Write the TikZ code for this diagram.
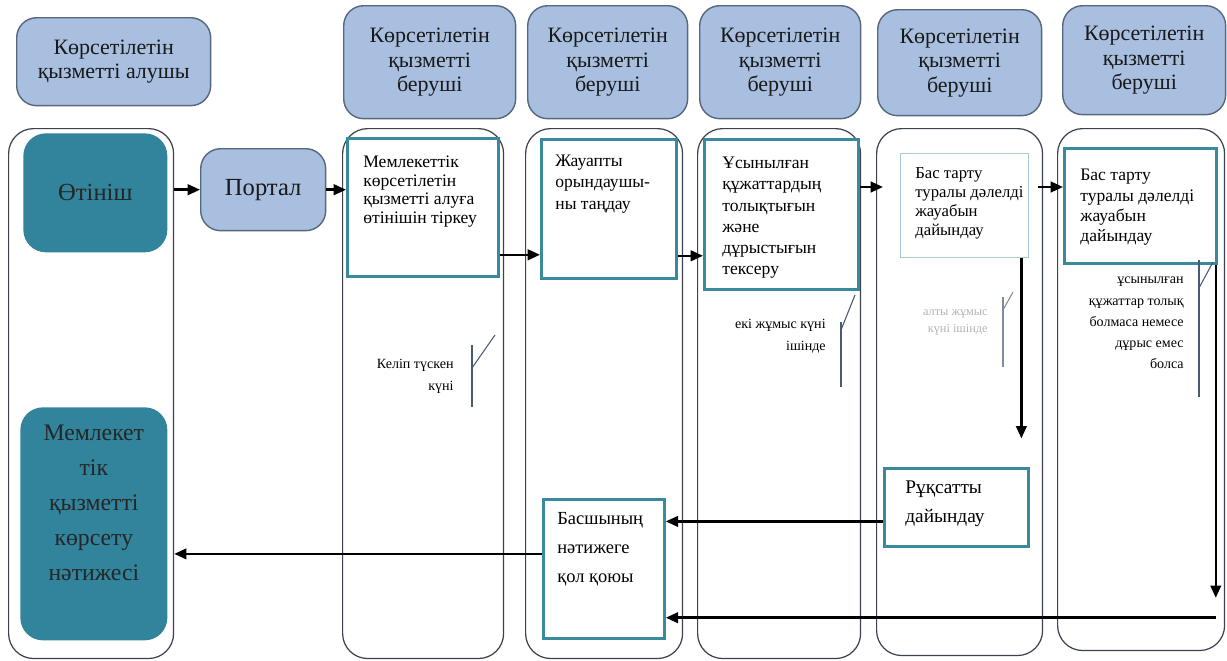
\documentclass[tikz,border=0pt]{standalone}
\usepackage{fontspec}
\setmainfont{Liberation Serif}
\usetikzlibrary{arrows.meta}

\definecolor{headblue}{HTML}{A8BFDF}
\definecolor{headline}{HTML}{56677E}
\definecolor{tealfill}{HTML}{31849B}
\definecolor{tealline}{HTML}{3A8A9E}
\definecolor{laneline}{HTML}{3C4250}
\definecolor{noteline}{HTML}{4A5A72}

\begin{document}
\begin{tikzpicture}[x=0.02cm, y=-0.02cm,
    lane/.style={draw=laneline, line width=0.7pt, rounded corners=0.5cm, anchor=north west, inner sep=0pt},
    head/.style={draw=headline, fill=headblue, line width=0.8pt, rounded corners=0.4cm, anchor=north west,
        align=center, inner sep=0pt, text=black!90, font=\fontsize{12.5}{14}\selectfont},
    tealbox/.style={fill=tealfill, rounded corners=0.45cm, anchor=north west, align=center, inner sep=0pt,
        text=black!85},
    stepbox/.style={draw=tealline, line width=1.6pt, fill=white, anchor=north west, inner sep=0pt},
    steptext/.style={anchor=north west, align=left, inner sep=0pt, font=\fontsize{10}{12}\selectfont},
    note/.style={anchor=north east, align=right, inner sep=0pt, font=\fontsize{8}{12.5}\selectfont},
    tick/.style={draw=noteline, line width=0.6pt},
    arr/.style={-{Triangle[length=7pt,width=6pt]}, line width=1.4pt}]
    \useasboundingbox (0,0) rectangle (1227,660);

    % lanes
    \node[lane, minimum width=3.30cm, minimum height=10.60cm] (lane0) at (8,128) {};
    \node[lane, minimum width=3.22cm, minimum height=10.60cm] (lane1) at (342,128) {};
    \node[lane, minimum width=3.14cm, minimum height=10.60cm] (lane2) at (525,128) {};
    \node[lane, minimum width=3.26cm, minimum height=10.60cm] (lane3) at (697,128) {};
    \node[lane, minimum width=3.32cm, minimum height=10.54cm] (lane4) at (876,128) {};
    \node[lane, minimum width=3.34cm, minimum height=10.44cm] (lane5) at (1057,128) {};

    % headers
    \node[head, minimum width=3.88cm, minimum height=1.76cm] (h0) at (16,17) {Көрсетілетін\\қызметті алушы};
    \node[head, minimum width=3.44cm, minimum height=2.26cm] (h1) at (343,5) {Көрсетілетін\\қызметті\\беруші};
    \node[head, minimum width=3.20cm, minimum height=2.26cm] (h2) at (527,5) {Көрсетілетін\\қызметті\\беруші};
    \node[head, minimum width=3.22cm, minimum height=2.26cm] (h3) at (699,5) {Көрсетілетін\\қызметті\\беруші};
    \node[head, minimum width=3.28cm, minimum height=2.12cm] (h4) at (877,9) {Көрсетілетін\\қызметті\\беруші};
    \node[head, minimum width=3.26cm, minimum height=2.18cm] (h5) at (1062,5) {Көрсетілетін\\қызметті\\беруші};

    % applicant side
    \node[tealbox, minimum width=2.88cm, minimum height=2.38cm, font=\fontsize{14}{16}\selectfont] (app) at (23,133) {Өтініш};
    \node[tealbox, minimum width=2.94cm, minimum height=4.66cm, font=\fontsize{13.5}{20}\selectfont] (result) at (20,407)
        {Мемлекет\\тік\\қызметті\\көрсету\\нәтижесі\\[4pt]};
    \node[head, minimum width=2.50cm, minimum height=1.64cm, font=\fontsize{14}{16}\selectfont] (portal) at (200,148) {Портал};

    % steps
    \node[stepbox, minimum width=3.02cm, minimum height=2.76cm] (b1) at (346,137) {};
    \node[steptext, font=\fontsize{10}{10.5}\selectfont, xshift=0.34cm, yshift=-0.38cm] (b1txt) at (b1.north west)
        {Мемлекеттік\\көрсетілетін\\қызметті алуға\\өтінішін тіркеу};
    \node[stepbox, minimum width=2.70cm, minimum height=2.78cm] (b2) at (540,138) {};
    \node[steptext, xshift=0.30cm, yshift=-0.34cm] (b2txt) at (b2.north west) {Жауапты\\орындаушы-\\ны таңдау};
    \node[stepbox, minimum width=3.08cm, minimum height=3.00cm] (b3) at (703,138) {};
    \node[steptext, xshift=0.38cm, yshift=-0.38cm] (b3txt) at (b3.north west)
        {Ұсынылған\\құжаттардың\\толықтығын\\және\\дұрыстығын\\тексеру};
    \node[stepbox, draw=tealline!45, line width=0.8pt, minimum width=2.56cm, minimum height=2.08cm] (b4) at (900,153) {};
    \node[steptext, font=\fontsize{9.5}{10.8}\selectfont, xshift=0.30cm, yshift=-0.28cm] (b4txt) at (b4.north west)
        {Бас тарту\\туралы дәлелді\\жауабын\\дайындау};
    \node[stepbox, minimum width=3.04cm, minimum height=2.30cm] (b5) at (1063,147) {};
    \node[steptext, font=\fontsize{10}{11.5}\selectfont, xshift=0.34cm, yshift=-0.44cm] (b5txt) at (b5.north west)
        {Бас тарту\\туралы дәлелді\\жауабын\\дайындау};
    \node[stepbox, minimum width=2.88cm, minimum height=1.56cm] (b6) at (883,467) {};
    \node[steptext, font=\fontsize{11}{17}\selectfont, xshift=0.44cm, yshift=-0.26cm] (b6txt) at (b6.north west)
        {Рұқсатты\\дайындау};
    \node[stepbox, minimum width=2.42cm, minimum height=2.78cm] (b7) at (542,498) {};
    \node[steptext, font=\fontsize{10.5}{16.5}\selectfont, xshift=0.30cm, yshift=-0.28cm] (b7txt) at (b7.north west)
        {Басшының\\нәтижеге\\қол қоюы};

    % terms
    \node[note] (n1) at (454,359) {Келіп түскен\\күні};
    \draw[tick] (472,345) -- (472,407);
    \draw[tick] (472,368) -- (495,335);
    \node[note] (n3) at (826,319) {екі жұмыс күні\\ішінде};
    \draw[tick] (841,322) -- (841,387);
    \draw[tick] (841,330) -- (855,295);
    \node[note, text=black!30, font=\fontsize{7}{10}\selectfont] (n4) at (988,309) {алты жұмыс\\күні ішінде};
    \draw[tick, draw=noteline!70] (1003,297) -- (1003,367);
    \draw[tick, draw=noteline!70] (1003,310) -- (1013,292);
    \node[note, font=\fontsize{8}{12}\selectfont] (n5) at (1184,277)
        {ұсынылған\\құжаттар толық\\болмаса немесе\\дұрыс емес\\болса};
    \draw[tick] (1199,260) -- (1199,397);
    \draw[tick] (1199,288) -- (1213,262);

    % flow
    \draw[arr] (lane0.east |- portal.west) -- (portal.west);
    \draw[arr] (portal.east) -- (portal.east -| b1.west);
    \coordinate (c12) at ([yshift=0.46cm]b1.south east);
    \draw[arr] (c12) -- (c12 -| b2.west);
    \coordinate (c23) at ([yshift=0.48cm]b2.south east);
    \draw[arr] (c23) -- (c23 -| b3.west);
    \coordinate (c34) at ([yshift=-0.98cm]b3.north east);
    \draw[arr] (c34) -- ([xshift=0.14cm]c34 -| lane4.west);
    \coordinate (c45) at ([xshift=-0.10cm]c34 -| lane4.east);
    \draw[arr] (c45) -- (c45 -| b5.west);
    \draw[arr] ([xshift=-0.16cm]b4.south east) -- ++(0,180);
    \draw[arr] ([xshift=-0.04cm]b5.south east) -- ++(0,333);
    \coordinate (turn) at ([xshift=-0.04cm, yshift=-7.06cm]b5.south east);
    \draw[arr] (turn) -- (turn -| b7.east);
    \coordinate (c67) at ([yshift=-0.28cm]b6.west);
    \draw[arr] (c67) -- (c67 -| b7.east);
    \coordinate (c70) at ([yshift=0.30cm]b7.west);
    \draw[arr] (c70) -- (c70 -| lane0.east);
\end{tikzpicture}
\end{document}
